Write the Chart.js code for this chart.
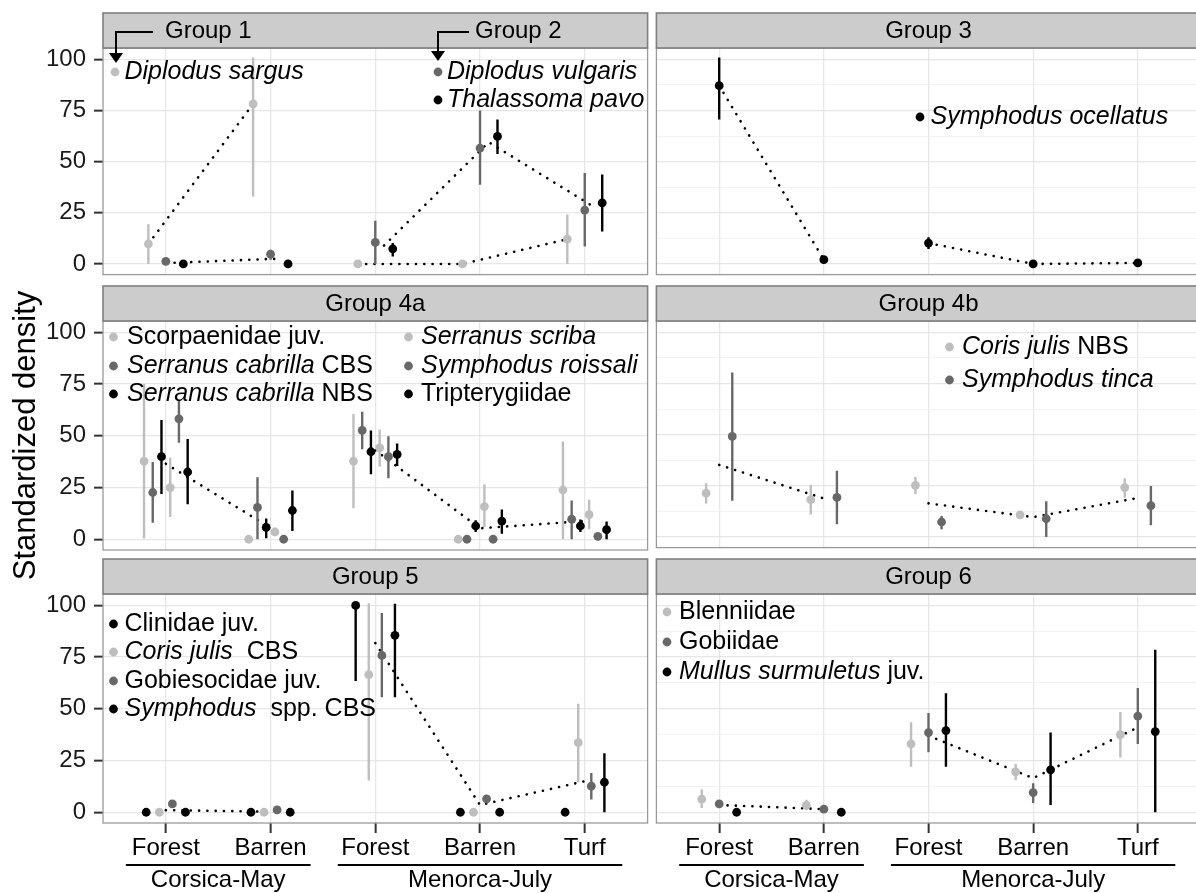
<!DOCTYPE html>
<html>
<head>
<meta charset="utf-8">
<script src="https://cdn.jsdelivr.net/npm/chart.js@4.4.1/dist/chart.umd.min.js"></script>
<style>
html,body{margin:0;padding:0;background:#fff;overflow:hidden;width:1196px;height:893px;position:relative;}
canvas{position:absolute;}
</style>
</head>
<body>
<script>
// ---------------- DATA ----------------
const categories = ["Forest", "Barren", "Forest", "Barren", "Turf"];
const regions = ["Corsica-May", "Menorca-July"];
const yTicks = [0, 25, 50, 75, 100];
const yMinorTicks = [12.5, 37.5, 62.5, 87.5];
const yTitle = "Standardized density";

// Group 1 & 2
const diplodusSargus     = [9.8, 78.2, 0, 0, 12.1];
const diplodusSargusLo   = [0, 33, null, null, 0];
const diplodusSargusHi   = [19.4, 100.8, null, null, 24.2];
const diplodusVulgaris   = [1.3, 4.8, 10.5, 56.6, 26.3];
const diplodusVulgarisLo = [0.4, 2.1, 0, 38.7, 8.5];
const diplodusVulgarisHi = [2.3, 7, 21.1, 75, 44.4];
const thalassomaPavo     = [0, 0, 7.4, 62.3, 29.8];
const thalassomaPavoLo   = [null, null, 3.7, 53.7, 15.8];
const thalassomaPavoHi   = [null, null, 10.2, 70.6, 43.7];
const group1Mean = [9.8, 78.2, 0, 0, 12.1];
const group2Mean = [0.6, 2.6, 9, 59.5, 28];

// Group 3
const symphodusOcellatus   = [87.1, 2.1, 10.2, 0, 0.5];
const symphodusOcellatusLo = [70.6, null, 7.3, null, null];
const symphodusOcellatusHi = [100.8, null, 13, null, null];
const group3Mean = [87.1, 2.1, 10.2, 0, 0.5];

// Group 4a
const scorpaenidaeJuv     = [37.8, 0, 37.8, 0, 23.8];
const scorpaenidaeJuvLo   = [0.3, null, 15, null, 0];
const scorpaenidaeJuvHi   = [75, null, 60.6, null, 47.2];
const serranusCabCBS      = [22.6, 15.4, 52.6, 0, 9.7];
const serranusCabCBSLo    = [8, 0, 43.5, null, 0];
const serranusCabCBSHi    = [37.3, 30, 61.6, null, 18.7];
const serranusCabNBS      = [39.9, 5.7, 42.3, 6.4, 6.4];
const serranusCabNBSLo    = [21.9, 0.5, 31.4, 3.5, 3.5];
const serranusCabNBSHi    = [57.7, 10, 52.6, 9.2, 9.6];
const serranusScriba      = [25, 3.5, 44.2, 15.8, 11.9];
const serranusScribaLo    = [10.7, 1.7, 35.1, 5.9, 4.8];
const serranusScribaHi    = [39.4, 5.5, 53, 26.6, 19.1];
const symphodusRoissali   = [58.2, 0, 39.9, 0, 1.4];
const symphodusRoissaliLo = [46.6, null, 29.5, null, 0.8];
const symphodusRoissaliHi = [67.3, null, 49.8, null, 2];
const tripterygiidae      = [32.5, 13.9, 41, 8.8, 4.6];
const tripterygiidaeLo    = [16.9, 4, 35.4, 2.7, 0];
const tripterygiidaeHi    = [48.4, 23.6, 46.3, 14.4, 8.6];
const group4aMean = [36.5, 5.5, 43, 5.3, 8.8];

// Group 4b
const corisJulisNBS     = [21.4, 18.2, 25.2, 10.8, 24.1];
const corisJulisNBSLo   = [16.4, 11, 20.9, 9.3, 19.3];
const corisJulisNBSHi   = [26.2, 25.4, 29.3, 12.4, 28.7];
const symphodusTinca    = [49.1, 19.3, 7.3, 8.9, 15.3];
const symphodusTincaLo  = [17.7, 6.2, 3.8, 0, 5.7];
const symphodusTincaHi  = [80.4, 32.4, 10.2, 17.5, 24.9];
const group4bMean = [35.2, 18.8, 16.4, 9.7, 19];

// Group 5
const clinidaeJuv       = [0, 0, 100, 0, 0];
const clinidaeJuvLo     = [null, null, 63.4, null, null];
const clinidaeJuvHi     = [null, null, 100, null, null];
const corisJulisCBS     = [0, 0, 66.5, 0, 33.7];
const corisJulisCBSLo   = [null, null, 15.3, null, 14.5];
const corisJulisCBSHi   = [null, null, 101, null, 52.4];
const gobiesocidaeJuv   = [4, 1.1, 75.8, 6.5, 12.6];
const gobiesocidaeJuvLo = [2.4, 0.5, 55.6, 5, 6.1];
const gobiesocidaeJuvHi = [5.6, 1.8, 96.3, 8, 19];
const symphodusSppCBS   = [0, 0, 85.5, 0, 14.5];
const symphodusSppCBSLo = [null, null, 55.6, null, 0];
const symphodusSppCBSHi = [null, null, 100.8, null, 28.5];
const group5Mean = [1, 0.3, 81.8, 3.5, 15];

// Group 6
const blenniidae      = [6.3, 3.3, 33, 19.5, 37.5];
const blenniidaeLo    = [2, 1, 22, 15.5, 26.5];
const blenniidaeHi    = [11, 6, 43.5, 23.5, 48.5];
const gobiidae        = [4, 1.5, 38.5, 9.5, 46.5];
const gobiidaeLo      = [2.5, 0.5, 29, 4.5, 33];
const gobiidaeHi      = [5.5, 2.5, 48, 14, 60];
const mullusJuv       = [0, 0, 39.5, 20.5, 39];
const mullusJuvLo     = [null, null, 22, 3.5, 0];
const mullusJuvHi     = [null, null, 57.5, 38.5, 78.5];
const group6Mean = [3.5, 1.5, 37, 16.5, 41];

// ---------------- STYLE / LAYOUT ----------------
const FONT = '"Liberation Sans", Arial, Helvetica, sans-serif';
const LIGHT = '#bebebe', MID = '#686868', DARK = '#000000';

const panels = [
  { row: 0, col: 0, title: null,
    headerTexts: [{ t: 'Group 1', x: 165 }, { t: 'Group 2', x: 475 }],
    arrows: [{ x0: 153, x1: 116, y: 32, tip: 63 }, { x0: 469, x1: 438, y: 32, tip: 61 }],
    series: [
      { v: diplodusSargus, lo: diplodusSargusLo, hi: diplodusSargusHi, c: LIGHT },
      { v: diplodusVulgaris, lo: diplodusVulgarisLo, hi: diplodusVulgarisHi, c: MID },
      { v: thalassomaPavo, lo: thalassomaPavoLo, hi: thalassomaPavoHi, c: DARK }],
    means: [{ v: group1Mean, members: [0] }, { v: group2Mean, members: [1, 2] }],
    legend: [
      { x: 115, tx: 124.5, y: 72, c: LIGHT, parts: [['Diplodus sargus', 1]] },
      { x: 438, tx: 447, y: 72, c: MID, parts: [['Diplodus vulgaris', 1]] },
      { x: 438, tx: 447, y: 100, c: DARK, parts: [['Thalassoma pavo', 1]] }] },
  { row: 0, col: 1, title: 'Group 3',
    series: [{ v: symphodusOcellatus, lo: symphodusOcellatusLo, hi: symphodusOcellatusHi, c: DARK }],
    means: [{ v: group3Mean, members: [0] }],
    legend: [{ x: 920, tx: 930.5, y: 117, c: DARK, parts: [['Symphodus ocellatus', 1]] }] },
  { row: 1, col: 0, title: 'Group 4a', yTitle: true,
    series: [
      { v: scorpaenidaeJuv, lo: scorpaenidaeJuvLo, hi: scorpaenidaeJuvHi, c: LIGHT },
      { v: serranusCabCBS, lo: serranusCabCBSLo, hi: serranusCabCBSHi, c: MID },
      { v: serranusCabNBS, lo: serranusCabNBSLo, hi: serranusCabNBSHi, c: DARK },
      { v: serranusScriba, lo: serranusScribaLo, hi: serranusScribaHi, c: LIGHT },
      { v: symphodusRoissali, lo: symphodusRoissaliLo, hi: symphodusRoissaliHi, c: MID },
      { v: tripterygiidae, lo: tripterygiidaeLo, hi: tripterygiidaeHi, c: DARK }],
    means: [{ v: group4aMean, members: [0, 1, 2, 3, 4, 5] }],
    legend: [
      { x: 113.5, tx: 127, y: 337, c: LIGHT, parts: [['Scorpaenidae juv.', 0]] },
      { x: 113.5, tx: 127, y: 366, c: MID, parts: [['Serranus cabrilla', 1], [' CBS', 0]] },
      { x: 113.5, tx: 127, y: 394, c: DARK, parts: [['Serranus cabrilla', 1], [' NBS', 0]] },
      { x: 408.5, tx: 421, y: 337, c: LIGHT, parts: [['Serranus scriba', 1]] },
      { x: 408.5, tx: 421, y: 366, c: MID, parts: [['Symphodus roissali', 1]] },
      { x: 408.5, tx: 421, y: 394, c: DARK, parts: [['Tripterygiidae', 0]] }] },
  { row: 1, col: 1, title: 'Group 4b',
    series: [
      { v: corisJulisNBS, lo: corisJulisNBSLo, hi: corisJulisNBSHi, c: LIGHT },
      { v: symphodusTinca, lo: symphodusTincaLo, hi: symphodusTincaHi, c: MID }],
    means: [{ v: group4bMean, members: [0, 1] }],
    legend: [
      { x: 949.5, tx: 962, y: 347, c: LIGHT, parts: [['Coris julis', 1], [' NBS', 0]] },
      { x: 949.5, tx: 962, y: 380, c: MID, parts: [['Symphodus tinca', 1]] }] },
  { row: 2, col: 0, title: 'Group 5',
    series: [
      { v: clinidaeJuv, lo: clinidaeJuvLo, hi: clinidaeJuvHi, c: DARK },
      { v: corisJulisCBS, lo: corisJulisCBSLo, hi: corisJulisCBSHi, c: LIGHT },
      { v: gobiesocidaeJuv, lo: gobiesocidaeJuvLo, hi: gobiesocidaeJuvHi, c: MID },
      { v: symphodusSppCBS, lo: symphodusSppCBSLo, hi: symphodusSppCBSHi, c: DARK }],
    means: [{ v: group5Mean, members: [0, 1, 2, 3] }],
    legend: [
      { x: 113.5, tx: 124.5, y: 624, c: DARK, parts: [['Clinidae juv.', 0]] },
      { x: 113.5, tx: 124.5, y: 652, c: LIGHT, parts: [['Coris julis', 1], ['  CBS', 0]] },
      { x: 113.5, tx: 124.5, y: 681, c: MID, parts: [['Gobiesocidae juv.', 0]] },
      { x: 113.5, tx: 124.5, y: 709, c: DARK, parts: [['Symphodus', 1], ['  spp. CBS', 0]] }] },
  { row: 2, col: 1, title: 'Group 6',
    series: [
      { v: blenniidae, lo: blenniidaeLo, hi: blenniidaeHi, c: LIGHT },
      { v: gobiidae, lo: gobiidaeLo, hi: gobiidaeHi, c: MID },
      { v: mullusJuv, lo: mullusJuvLo, hi: mullusJuvHi, c: DARK }],
    means: [{ v: group6Mean, members: [0, 1, 2] }],
    legend: [
      { x: 667, tx: 679, y: 612, c: LIGHT, parts: [['Blenniidae', 0]] },
      { x: 667, tx: 679, y: 642, c: MID, parts: [['Gobiidae', 0]] },
      { x: 667, tx: 679, y: 672, c: DARK, parts: [['Mullus surmuletus', 1], [' juv.', 0]] }] }
];

function buildDatasets(p) {
  const n = p.series.length;
  const off = i => (i - (n - 1) / 2) * 0.5 / n;
  const ds = [];
  p.means.forEach(m => {
    const o = m.members.reduce((a, i) => a + off(i), 0) / m.members.length;
    const data = [];
    m.v.forEach((y, k) => {
      if (k === 2) data.push({ x: 2.5, y: null });
      data.push({ x: k + 1 + o, y: y });
    });
    ds.push({ type: 'line', data, borderColor: '#000', borderWidth: 2.6, borderDash: [0.1, 8.2],
      borderCapStyle: 'round', pointRadius: 0, fill: false, tension: 0, spanGaps: false, order: 1000 });
  });
  p.series.forEach((s, i) => {
    const eb = [];
    s.v.forEach((y, k) => {
      if (s.lo[k] == null || s.hi[k] == null) return;
      const x = k + 1 + off(i);
      eb.push({ x, y: s.lo[k] }, { x, y: s.hi[k] }, { x, y: null });
    });
    ds.push({ type: 'line', data: eb, borderColor: s.c, borderWidth: 2.4, borderCapStyle: 'butt',
      pointRadius: 0, fill: false, spanGaps: false, order: 500 - 2 * i });
    ds.push({ type: 'line', showLine: false, data: s.v.map((y, k) => ({ x: k + 1 + off(i), y })),
      pointRadius: 4.4, pointHoverRadius: 4.4, pointBackgroundColor: s.c, pointBorderWidth: 0,
      borderColor: s.c, order: 499 - 2 * i });
  });
  return ds;
}

function drawParts(ctx, parts, x, y, size) {
  ctx.textBaseline = 'middle';
  ctx.textAlign = 'left';
  ctx.fillStyle = '#000';
  let cx = x;
  parts.forEach(([t, it]) => {
    ctx.font = (it ? 'italic ' : '') + size + 'px ' + FONT;
    ctx.fillText(t, cx, y);
    cx += ctx.measureText(t).width;
  });
}

const decor = {
  id: 'decor',
  afterDraw(chart) {
    const o = chart.options.plugins.decor;
    const p = o.panel;
    const ox = o.pageX, oy = o.pageY;
    const ctx = chart.ctx;
    const a = chart.chartArea;
    ctx.save();
    // panel border
    ctx.strokeStyle = '#9a9a9a';
    ctx.lineWidth = 1.3;
    ctx.strokeRect(a.left, a.top, a.right - a.left, a.bottom - a.top);
    // strip
    ctx.fillStyle = '#cccccc';
    ctx.fillRect(a.left, a.top - 35, a.right - a.left, 35);
    ctx.strokeStyle = '#7f7f7f';
    ctx.lineWidth = 1.6;
    ctx.strokeRect(a.left, a.top - 35, a.right - a.left, 35);
    ctx.fillStyle = '#000';
    ctx.font = '24px ' + FONT;
    ctx.textBaseline = 'middle';
    if (p.title) {
      ctx.textAlign = 'center';
      ctx.fillText(p.title, (a.left + a.right) / 2, a.top - 17);
    }
    if (p.headerTexts) {
      ctx.textAlign = 'left';
      p.headerTexts.forEach(h => ctx.fillText(h.t, h.x - ox, a.top - 17));
    }
    if (p.arrows) {
      p.arrows.forEach(ar => {
        ctx.strokeStyle = '#000';
        ctx.lineWidth = 2;
        ctx.beginPath();
        ctx.moveTo(ar.x0 - ox, ar.y - oy);
        ctx.lineTo(ar.x1 - ox, ar.y - oy);
        ctx.lineTo(ar.x1 - ox, ar.tip - 9 - oy);
        ctx.stroke();
        ctx.fillStyle = '#000';
        ctx.beginPath();
        ctx.moveTo(ar.x1 - 7 - ox, ar.tip - 10 - oy);
        ctx.lineTo(ar.x1 + 7 - ox, ar.tip - 10 - oy);
        ctx.lineTo(ar.x1 - ox, ar.tip - oy);
        ctx.closePath();
        ctx.fill();
      });
    }
    // in-panel legends
    p.legend.forEach(l => {
      ctx.fillStyle = l.c;
      ctx.beginPath();
      ctx.arc(l.x - ox, l.y - oy, 4.4, 0, Math.PI * 2);
      ctx.fill();
      drawParts(ctx, l.parts, l.tx - ox, l.y - oy, 25);
    });
    // bottom region labels
    if (p.row === 2) {
      const xs = chart.scales.x;
      const spans = [
        [xs.getPixelForValue(1) - 40, xs.getPixelForValue(2) + 40],
        [xs.getPixelForValue(3) - 37.5, xs.getPixelForValue(5) + 37.5]];
      ctx.strokeStyle = '#000';
      ctx.lineWidth = 1.8;
      ctx.font = '24px ' + FONT;
      ctx.textAlign = 'center';
      ctx.textBaseline = 'middle';
      ctx.fillStyle = '#000';
      spans.forEach((s, i) => {
        ctx.beginPath();
        ctx.moveTo(s[0], 865 - oy);
        ctx.lineTo(s[1], 865 - oy);
        ctx.stroke();
        ctx.fillText(regions[i], (s[0] + s[1]) / 2, 880 - oy);
      });
    }
    ctx.restore();
  }
};

panels.forEach(p => {
  const left = p.col === 0, bottom = p.row === 2;
  const pageX = left ? 0 : 652;
  const panelTop = 48 + 273 * p.row;       // plot area top (page)
  const panelBottom = panelTop + 229;      // plot area bottom (page)
  let pageY, H, padTop, padBottom;
  if (p.yTitle) {               // taller transparent canvas so the centred axis title fits
    pageY = 250; H = 380;
    padTop = panelTop - pageY; padBottom = pageY + H - panelBottom;
  } else if (bottom) {
    pageY = panelTop - 37; H = 893 - pageY; padTop = 37; padBottom = 0;
  } else {
    pageY = panelTop - 37; H = 37 + 229 + 2; padTop = 37; padBottom = 2;
  }
  const W = left ? 652 : 553;
  const cv = document.createElement('canvas');
  cv.width = W; cv.height = H;
  cv.style.left = pageX + 'px'; cv.style.top = pageY + 'px';
  cv.style.width = W + 'px'; cv.style.height = H + 'px';
  document.body.appendChild(cv);
  new Chart(cv, {
    type: 'line',
    data: { datasets: buildDatasets(p) },
    options: {
      responsive: false, animation: false, events: [],
      layout: { padding: { left: 0, right: 4, top: padTop, bottom: padBottom } },
      plugins: { legend: { display: false }, tooltip: { enabled: false },
        decor: { panel: p, pageX, pageY } },
      scales: {
        x: {
          type: 'linear', min: 0.4, max: 5.6,
          afterBuildTicks: s => { s.ticks = [1, 2, 3, 4, 5].map(v => ({ value: v })); },
          ticks: { display: bottom, autoSkip: false, maxRotation: 0, minRotation: 0, padding: 1,
            font: { family: FONT, size: 24 }, color: '#000', callback: v => categories[v - 1] },
          grid: { color: '#e6e6e6', lineWidth: 1.3, drawTicks: bottom, tickLength: 10,
            tickColor: '#333', tickWidth: 2 },
          border: { display: false },
          afterFit: s => { s.height = bottom ? 70 : 0; s.paddingLeft = 0; s.paddingRight = 0; }
        },
        y: {
          type: 'linear', min: -5.2, max: 105.5,
          afterBuildTicks: s => {
            s.ticks = yTicks.concat(yMinorTicks).sort((a, b) => a - b).map(v => ({ value: v }));
          },
          ticks: { display: left, padding: 8, font: { family: FONT, size: 24 }, color: '#1a1a1a',
            callback: v => (yTicks.includes(v) ? String(v) : '') },
          grid: {
            color: c => (c.tick && yTicks.includes(c.tick.value)) ? '#e6e6e6' : '#f2f2f2',
            lineWidth: c => (c.tick && yTicks.includes(c.tick.value)) ? 1.3 : 1,
            drawTicks: left, tickLength: 9, tickWidth: 2,
            tickColor: c => (c.tick && yTicks.includes(c.tick.value)) ? '#333' : 'rgba(0,0,0,0)'
          },
          border: { display: false },
          title: { display: !!p.yTitle, text: yTitle, color: '#000',
            font: { family: FONT, size: 31 }, padding: { top: 8, bottom: 0 } },
          afterFit: s => { s.width = left ? 103 : 4; s.paddingTop = 0; s.paddingBottom = 0; }
        }
      }
    },
    plugins: [decor]
  });
});
</script>
</body>
</html>
